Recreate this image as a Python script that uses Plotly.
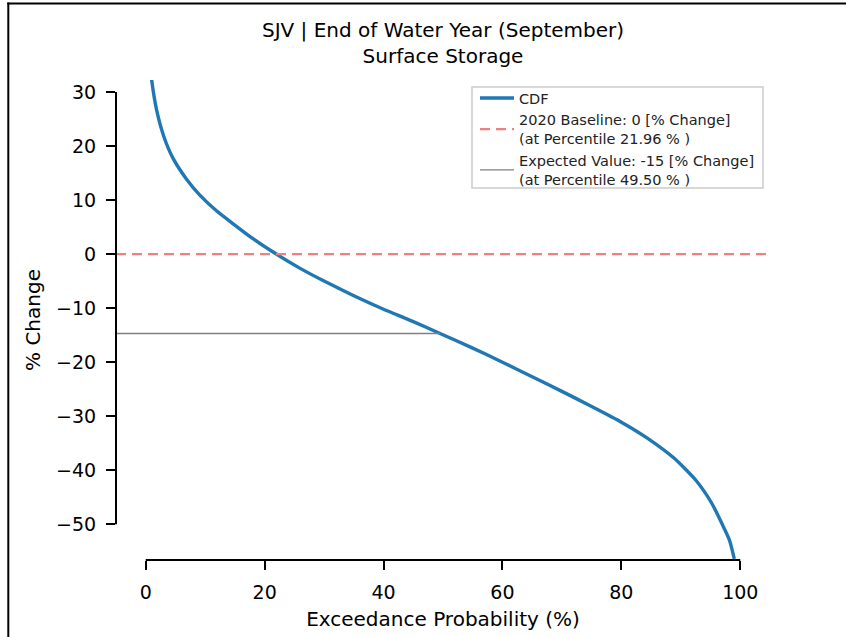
import plotly.graph_objects as go

# Exceedance curve of end-of-September surface storage change (SJV)
exceedance_pct = [0.5, 1.0, 1.8, 3.0, 4.6, 6.9, 9.1, 11.9, 14.7, 18.1, 21.96,
                  25.9, 30.0, 35.0, 40.0, 45.0, 49.5, 55.0, 60.0, 65.0, 70.0,
                  75.0, 80.0, 84.3, 88.8, 92.5, 95.2, 97.4, 98.2, 99.0]
pct_change = [37.5, 32.2, 26.8, 21.9, 17.7, 13.8, 10.9, 8.0, 5.6, 2.8, 0.0,
              -2.6, -5.0, -7.7, -10.2, -12.5, -14.7, -17.4, -20.0, -22.7, -25.4,
              -28.2, -31.1, -34.0, -37.7, -41.8, -46.1, -51.0, -53.0, -56.4]

# Reference markers
baseline_value = 0
baseline_percentile = 21.96
expected_value = -14.7
expected_percentile = 49.50

x_ticks = [0, 20, 40, 60, 80, 100]
y_ticks = [30, 20, 10, 0, -10, -20, -30, -40, -50]

x_range = [-5, 105]
y_range = [-56.6, 32.2]

FONT = "DejaVu Sans"
W, H = 846, 637
ML, MR, MT, MB = 116, 76, 80, 77
PW, PH = W - ML - MR, H - MT - MB


def px_to_paper_x(px):
    return (px - ML) / PW


def px_to_paper_y(py):
    return (H - MB - py) / PH


fig = go.Figure()

fig.add_trace(go.Scatter(
    x=exceedance_pct, y=pct_change, mode="lines", name="CDF",
    line=dict(color="#1f77b4", width=3.4, shape="spline", smoothing=0.6),
))
fig.add_trace(go.Scatter(
    x=x_range, y=[baseline_value, baseline_value], mode="lines",
    name=f"2020 Baseline: {baseline_value:.0f} [% Change]<br>(at Percentile {baseline_percentile:.2f} % )",
    line=dict(color="#f08080", width=2.2, dash="10px,6px"),
))
fig.add_trace(go.Scatter(
    x=[x_range[0], expected_percentile], y=[expected_value, expected_value], mode="lines",
    name=f"Expected Value: {expected_value:.0f} [% Change]<br>(at Percentile {expected_percentile:.2f} % )",
    line=dict(color="#808080", width=1.3),
))

shapes = [
    # trimmed spines: only span the tick range
    dict(type="line", xref="paper", yref="y", x0=0, x1=0,
         y0=min(y_ticks), y1=max(y_ticks), line=dict(color="black", width=2)),
    dict(type="line", xref="x", yref="paper", x0=min(x_ticks), x1=max(x_ticks),
         y0=0, y1=0, line=dict(color="black", width=2)),
    # legend frame
    dict(type="rect", xref="paper", yref="paper", layer="above",
         x0=px_to_paper_x(472), x1=px_to_paper_x(763),
         y0=px_to_paper_y(188), y1=px_to_paper_y(87),
         fillcolor="white", line=dict(color="#cccccc", width=1.5)),
    # page frame (left and top)
    dict(type="line", xref="paper", yref="paper",
         x0=px_to_paper_x(8.3), x1=px_to_paper_x(8.3),
         y0=px_to_paper_y(2.5), y1=px_to_paper_y(H + 2),
         line=dict(color="black", width=2)),
    dict(type="line", xref="paper", yref="paper",
         x0=px_to_paper_x(7.3), x1=px_to_paper_x(W + 2),
         y0=px_to_paper_y(3.5), y1=px_to_paper_y(3.5),
         line=dict(color="black", width=2)),
]

axis_common = dict(
    showgrid=False, zeroline=False, showline=False,
    ticks="outside", ticklen=9, tickwidth=2, tickcolor="black",
    tickfont=dict(family=FONT, size=19, color="black"),
    ticklabelstandoff=6,
)

fig.update_layout(
    width=W, height=H,
    margin=dict(l=ML, r=MR, t=MT, b=MB),
    paper_bgcolor="white", plot_bgcolor="white",
    font=dict(family=FONT, color="black"),
    title=dict(
        text="SJV | End of Water Year (September)<br>Surface Storage",
        x=px_to_paper_x(443), xref="paper", xanchor="center",
        y=1 - 37 / H, yanchor="middle",
        font=dict(family=FONT, size=20, color="black"),
    ),
    xaxis=dict(
        range=x_range, tickvals=x_ticks,
        title=dict(text="Exceedance Probability (%)", standoff=10,
                   font=dict(family=FONT, size=20, color="black")),
        automargin=False, **axis_common,
    ),
    yaxis=dict(
        range=y_range, tickvals=y_ticks,
        title=dict(text="% Change", standoff=10,
                   font=dict(family=FONT, size=20, color="black")),
        automargin=False, **axis_common,
    ),
    legend=dict(
        x=px_to_paper_x(475), y=px_to_paper_y(82),
        xanchor="left", yanchor="top",
        bgcolor="rgba(0,0,0,0)", borderwidth=0,
        font=dict(family=FONT, size=14.5, color="#222222"),
        tracegroupgap=0, itemwidth=34,
    ),
    shapes=shapes,
    showlegend=True,
)

fig.write_html("out.html")
